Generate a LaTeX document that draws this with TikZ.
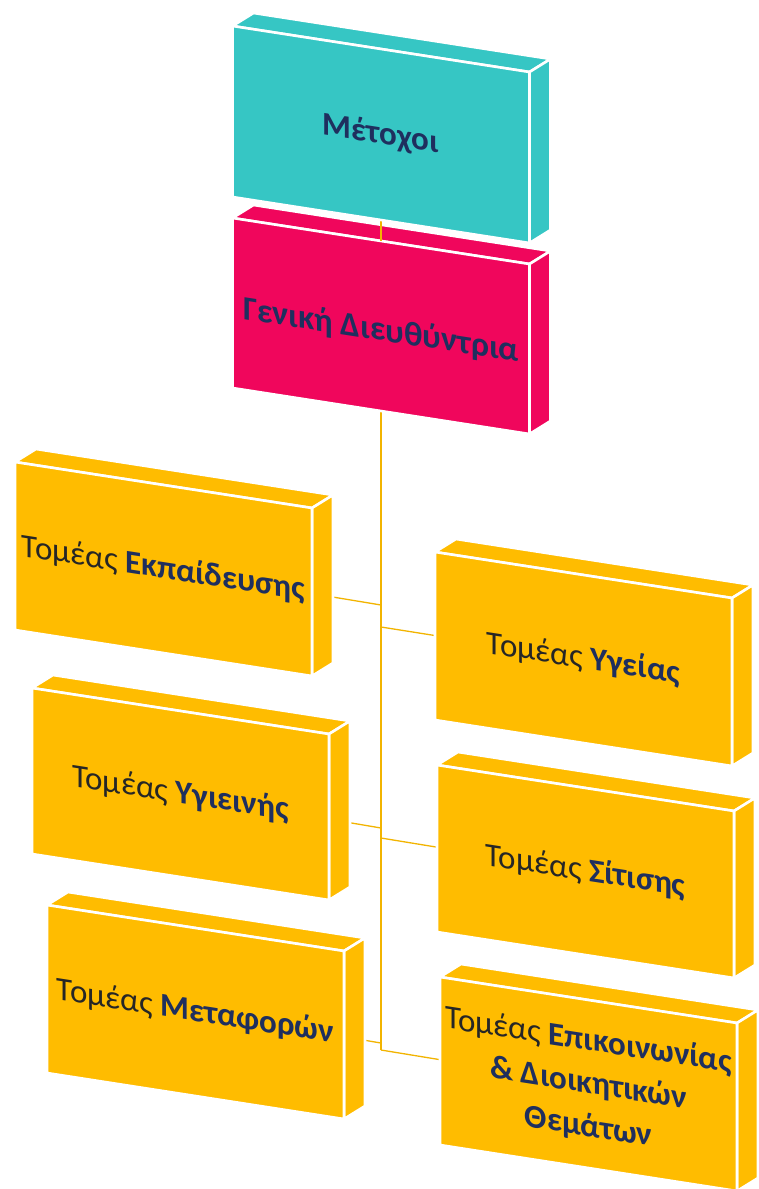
\documentclass[tikz,border=0pt]{standalone}
\usepackage{fontspec}
\setmainfont{Carlito}
\definecolor{teal1}{HTML}{36C6C4}
\definecolor{pink1}{HTML}{F0065C}
\definecolor{gold1}{HTML}{FFBC00}
\definecolor{navy1}{HTML}{1F2F5E}
\definecolor{dark1}{HTML}{262626}
\definecolor{line1}{HTML}{F2B400}
\pgfdeclarelayer{bg}
\pgfdeclarelayer{fg}
\pgfsetlayers{bg,main,fg}
\tikzset{
  slabface/.style={draw=white,line width=2.6pt,line join=round},
  slabtext/.style={yslant=-0.155,align=center,font=\fontsize{33}{43}\selectfont,text=dark1,inner sep=0pt},
  conn/.style={draw=line1,line width=1.3pt},
}
\newcommand\bw[1]{\textbf{\textcolor{navy1}{#1}}}
\newcommand\drawslab[6]{%
  \begin{scope}[shift={#2}]
    \filldraw[slabface,fill=#4] (0,0) -- (21,-13) -- (318,33) -- (297,46) -- cycle;
    \filldraw[slabface,fill=#4] (297,46) -- (318,33) -- (318,33+#3) -- (297,46+#3) -- cycle;
    \filldraw[slabface,fill=#4] (0,0) -- (297,46) -- (297,46+#3) -- (0,#3) -- cycle;
    \node[slabtext,#6] (#1) at (148.5,23+#3/2) {#5};
    \coordinate (#1-top) at (148.5,23);
  \end{scope}}
\begin{document}
\begin{tikzpicture}[x=1pt,y=-1pt]
\useasboundingbox (0,0) rectangle (758,1189);
\begin{pgfonlayer}{bg}
  \fill[white] (0,0) rectangle (758,1189);
\end{pgfonlayer}
% top two slabs
\begin{pgfonlayer}{fg}
  \drawslab{met}{(232.5,26)}{171}{teal1}{\bw{Μέτοχοι}}{}
\end{pgfonlayer}
\drawslab{gen}{(232.5,218)}{170}{pink1}{\bw{Γενική Διευθύντρια}}{yshift=-5pt,font=\fontsize{34}{43}\selectfont}
\draw[conn] (met) -- (gen-top);
% departments
\drawslab{ekp}{(15,462)}{168}{gold1}{Τομέας \bw{Εκπαίδευσης}}{}
\drawslab{yge}{(435,552)}{168}{gold1}{Τομέας \bw{Υγείας}}{}
\drawslab{ygi}{(32,688)}{166}{gold1}{Τομέας \bw{Υγιεινής}}{}
\drawslab{sit}{(437,765)}{167}{gold1}{Τομέας \bw{Σίτισης}}{}
\drawslab{mtf}{(47,905)}{168}{gold1}{Τομέας \bw{Μεταφορών}}{}
\drawslab{epi}{(440,977)}{168}{gold1}{Τομέας \bw{Επικοινωνίας}\\\bw{\& Διοικητικών}\\\bw{Θεμάτων}}{}
% trunk points
\coordinate (t1) at (381,605);
\coordinate (t2) at (381,627);
\coordinate (t3) at (381,828);
\coordinate (t4) at (381,838);
\coordinate (t5) at (381,1043);
\coordinate (t6) at (381,1050);
\begin{pgfonlayer}{bg}
  \draw[conn] (gen) -- (t6);
  \draw[conn] (ekp) -- (t1);
  \draw[conn] (yge) -- (t2);
  \draw[conn] (ygi) -- (t3);
  \draw[conn] (sit) -- (t4);
  \draw[conn] (mtf) -- (t5);
  \draw[conn] (epi) -- (t6);
\end{pgfonlayer}
\end{tikzpicture}
\end{document}
